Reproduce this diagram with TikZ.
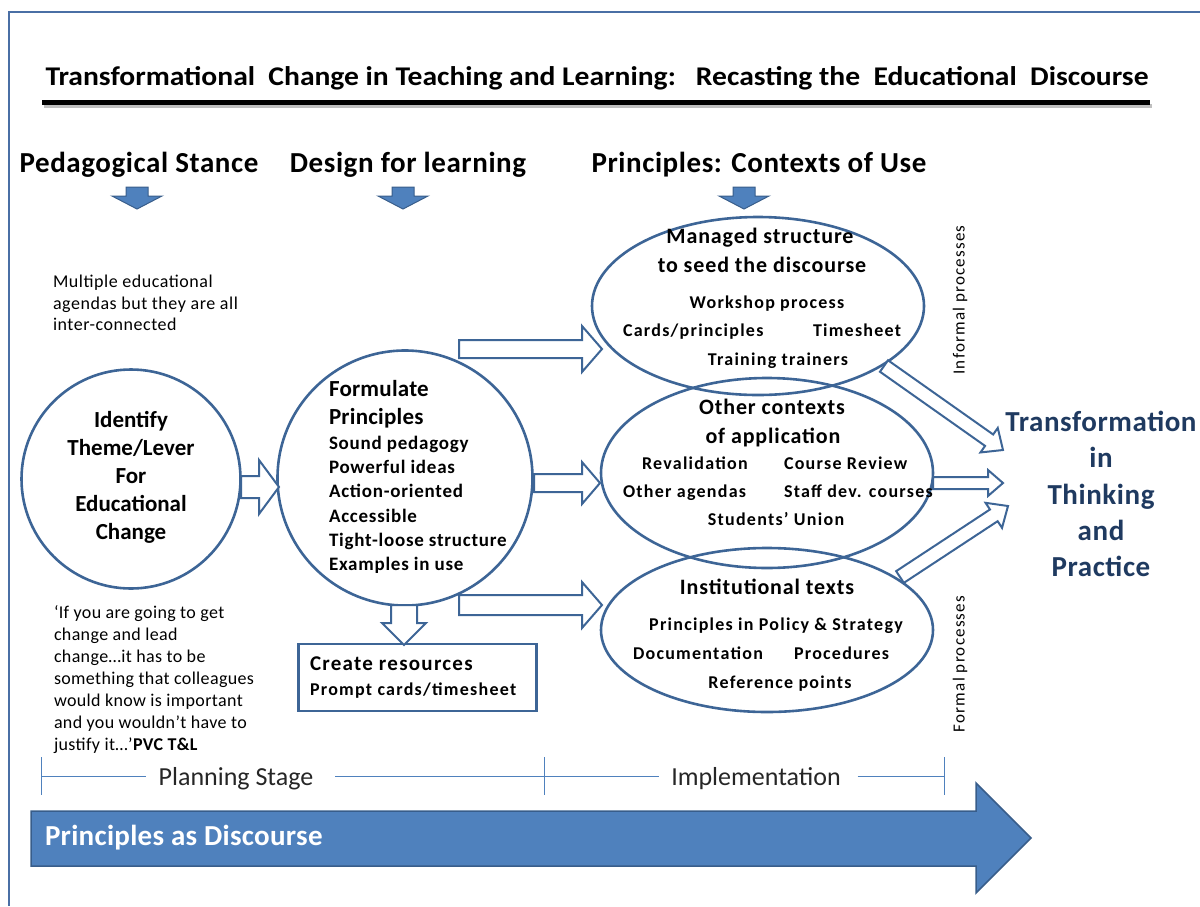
\documentclass[tikz,border=0pt]{standalone}
\usepackage{fontspec}
\setmainfont{Carlito}
\usetikzlibrary{calc,shapes.geometric}

\definecolor{edge}{HTML}{3D6596}
\definecolor{fillblue}{HTML}{4F81BD}
\definecolor{darkblue}{HTML}{385D8A}
\definecolor{navy}{HTML}{1F3A60}
\definecolor{framec}{HTML}{4A6FA5}
\definecolor{ink}{HTML}{262626}

\newcommand\fsz[2]{\fontsize{#1}{#2}\selectfont}
\newcommand\ls[1]{\addfontfeatures{LetterSpace=#1}}

% block arrow: style, from, to, shaft half-width, head half-width, head length
\newcommand\blockarrow[6]{%
  \draw[#1] let \p1=($(#3)-(#2)$), \n1={atan2(\y1,\x1)}, \n2={veclen(\x1,\y1)} in
    [shift={(#2)}, rotate=\n1]
    (0pt,#4pt) -- (\n2-#6pt,#4pt) -- (\n2-#6pt,#5pt) -- (\n2,0pt)
    -- (\n2-#6pt,-#5pt) -- (\n2-#6pt,-#4pt) -- (0pt,-#4pt) -- cycle;}

\begin{document}
\begin{tikzpicture}[x=1pt,y=-1pt,
  ring/.style={draw=edge, line width=2.6pt, inner sep=0pt},
  harrow/.style={draw=edge, line width=2pt, fill=white, line join=miter},
  sarrow/.style={draw=darkblue, fill=fillblue, line width=1pt, line join=miter},
  txt/.style={inner sep=0pt, outer sep=0pt, text=black},
  head/.style={txt, font=\bfseries\fsz{29}{34}\ls{2}},
  item/.style={txt, anchor=base, font=\bfseries\fsz{18}{22}\ls{7}},
  sub/.style={txt, anchor=base, font=\bfseries\fsz{22}{27}\ls{4}},
  tick/.style={draw=fillblue, line width=1pt}]
\useasboundingbox (0,0) rectangle (1200,906);

% frame
\draw[framec, line width=2pt] (8,12) -- (1200,12);
\draw[framec, line width=2pt] (9,12) -- (9,906);

% title and rule
\node[txt, font=\bfseries\fsz{27}{32}] (title) at (597,78)
  {\scalebox{1.095}[1]{Transformational\ \ Change in Teaching and Learning:\ \ \ Recasting the\ \ Educational\ \ Discourse}};
\draw[black!25, line width=4pt] (44,106) -- (1152,106);
\draw[black, line width=5pt] (42,102) -- (1150,102);

% column headings
\node[head] (h1) at (139,165) {Pedagogical Stance};
\node[head] (h2) at (408,165) {Design for learning};
\node[head] (h3) at (759,165) {Principles: Contexts of Use};

\coordinate (h1a) at (137,187); \coordinate (h1b) at (137,209);
\coordinate (h2a) at (403,187); \coordinate (h2b) at (403,209);
\coordinate (h3a) at (744,187); \coordinate (h3b) at (744,209);
\blockarrow{sarrow}{h1a}{h1b}{11}{25}{13}
\blockarrow{sarrow}{h2a}{h2b}{11}{25}{13}
\blockarrow{sarrow}{h3a}{h3b}{11}{25}{13}

% left column notes
\node[txt, anchor=north west, align=left, font=\fsz{18}{21.5}\ls{3}] (multi) at (53,275)
  {Multiple educational\\agendas but they are all\\inter-connected};
\node[txt, anchor=north west, align=left, font=\fsz{18}{22}\ls{2}] (quote) at (54,606)
  {‘If you are going to get\\change and lead\\change…it has to be\\something that colleagues\\would know is important\\and you wouldn’t have to\\justify it…’\textbf{PVC T\&L}};

% circles
\node[ring, circle, minimum size=219] (c1) at (131,479) {};
\node[txt, align=center, font=\bfseries\fsz{23}{28}] (c1t) at (131,477)
  {Identify\\Theme/Lever\\For\\Educational\\Change};
\node[ring, circle, minimum size=255] (c2) at (405,478) {};
\node[txt, anchor=north west, align=left, font=\bfseries\fsz{23}{28}\ls{1}] (c2t) at (329,380)
  {Formulate\\Principles};
\node[txt, anchor=north west, align=left, font=\bfseries\fsz{19}{24.3}\ls{4}] (c2l) at (329,436)
  {Sound pedagogy\\Powerful ideas\\Action-oriented\\Accessible\\Tight-loose structure\\Examples in use};

% resources box
\node[draw=edge, line width=2.4pt, minimum width=238, minimum height=67, inner sep=0pt] (res) at (417.5,677.5) {};
\node[txt, anchor=base west, font=\bfseries\fsz{21}{25}\ls{6}] (rest) at (310,670) {Create resources};
\node[txt, anchor=base west, font=\bfseries\fsz{18}{22}\ls{7}] (resl) at (310,695) {Prompt cards/timesheet};

% contexts of use
\node[ring, ellipse, minimum width=332, minimum height=178] (e1) at (758,306) {};
\node[ring, ellipse, minimum width=332, minimum height=190] (e2) at (767,473) {};
\node[ring, ellipse, minimum width=332, minimum height=164] (e3) at (767,630) {};

\node[sub] (e1a) at (760,243) {Managed structure};
\node[sub] (e1b) at (762,272) {to seed the discourse};
\node[item] (e1c) at (767,308) {Workshop process};
\node[item, anchor=base west] (e1d) at (623,336) {Cards/principles};
\node[item, anchor=base west] (e1e) at (813,336) {Timesheet};
\node[item] (e1f) at (778,365) {Training trainers};

\node[sub] (e2a) at (772,414) {Other contexts};
\node[sub] (e2b) at (773,443) {of application};
\node[item, anchor=base west] (e2c) at (642,469) {Revalidation};
\node[item, anchor=base west] (e2d) at (784,469) {Course Review};
\node[item, anchor=base west] (e2e) at (623,497) {Other agendas};
\node[item, anchor=base west] (e2f) at (784,497) {Staff dev. courses};
\node[item] (e2g) at (776,525) {Students’ Union};

\node[sub] (e3a) at (767,594) {Institutional texts};
\node[item] (e3b) at (776,630) {Principles in Policy \& Strategy};
\node[item, anchor=base west] (e3c) at (633,659) {Documentation};
\node[item, anchor=base west] (e3d) at (794,659) {Procedures};
\node[item] (e3e) at (780,688) {Reference points};

\node[txt, rotate=90, font=\fsz{17}{20}\ls{7}] (inf) at (960,300) {Informal processes};
\node[txt, rotate=90, font=\fsz{17}{20}\ls{7}] (form) at (960,664) {Formal processes};

% outcome
\node[txt, align=center, text=navy, font=\bfseries\fsz{29}{36.25}\ls{2}] (out) at (1101,494)
  {Transformation\\in\\Thinking\\and\\Practice};

% hollow connectors
\coordinate (a2s) at (241,487); \coordinate (a2e) at (279,487);
\coordinate (a1s) at (459,349); \coordinate (a1e) at (602,349);
\coordinate (a3s) at (534,483); \coordinate (a3e) at (600,483);
\coordinate (a4s) at (459,605); \coordinate (a4e) at (602,605);
\coordinate (a5s) at (404,605); \coordinate (a5e) at (404,645);
\coordinate (b1s) at (884,366); \coordinate (b1e) at (1003,450);
\coordinate (b2s) at (933,483); \coordinate (b2e) at (1003,483);
\coordinate (b3s) at (900,577); \coordinate (b3e) at (1008,506);
\blockarrow{harrow}{a2s}{a2e}{11}{27}{20}
\blockarrow{harrow}{a1s}{a1e}{9}{23}{20}
\blockarrow{harrow}{a3s}{a3e}{9}{21}{18}
\blockarrow{harrow}{a4s}{a4e}{10}{23}{20}
\blockarrow{harrow}{a5s}{a5e}{13}{22}{22}
\blockarrow{harrow}{b1s}{b1e}{7}{15}{17}
\blockarrow{harrow}{b2s}{b2e}{6}{13}{15}
\blockarrow{harrow}{b3s}{b3e}{7}{15}{17}

% stages
\node[txt, text=ink, font=\fsz{26}{30}] (plan) at (236,779) {Planning Stage};
\node[txt, text=ink, font=\fsz{26}{30}] (impl) at (756,779) {Implementation};
\coordinate (t0) at (41,776); \coordinate (t1) at (544,776); \coordinate (t2) at (944,776);
\draw[tick] (t0) -- ($(plan.west)+(-13,-3)$);
\draw[tick] ($(plan.east)+(22,-3)$) -- (t1) -- ($(impl.west)+(-12,-3)$);
\draw[tick] ($(impl.east)+(17,-3)$) -- (t2);
\foreach \t in {t0,t1,t2} \draw[tick] ($(\t)+(0,-19)$) -- ($(\t)+(0,19)$);

% discourse arrow
\draw[fill=fillblue, draw=darkblue, line width=1.5pt, line join=miter] (31,811) -- (976,811) -- (976,783) -- (1031,838)
  -- (976,893) -- (976,866) -- (31,866) -- cycle;
\node[txt, anchor=west, text=white, font=\bfseries\fsz{29}{34}\ls{1}] (disc) at (45,838) {Principles as Discourse};
\end{tikzpicture}
\end{document}
